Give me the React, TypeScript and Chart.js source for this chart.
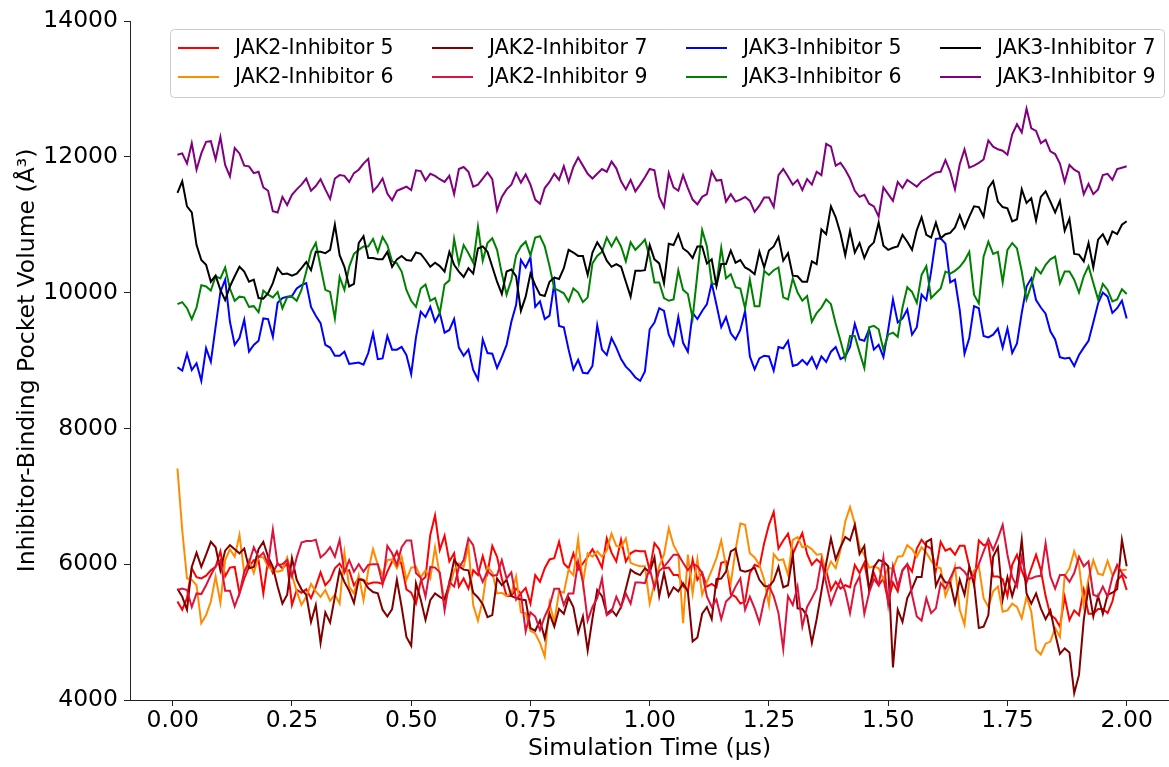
import React, { useEffect, useRef } from "react";
import { Chart, registerables } from "chart.js";

Chart.register(...registerables);

// Simulation time points (µs): 0.01 ... 2.00
const TIMES: number[] = Array.from({ length: 200 }, (_, i) => (i + 1) / 100);

const X_TICKS = [0, 0.25, 0.5, 0.75, 1.0, 1.25, 1.5, 1.75, 2.0];
const Y_TICKS = [4000, 6000, 8000, 10000, 12000, 14000];

const SERIES_NAMES = [
  "JAK2-Inhibitor 5",
  "JAK2-Inhibitor 6",
  "JAK2-Inhibitor 7",
  "JAK2-Inhibitor 9",
  "JAK3-Inhibitor 5",
  "JAK3-Inhibitor 6",
  "JAK3-Inhibitor 7",
  "JAK3-Inhibitor 9",
];
const SERIES_COLORS = ["#ff0000", "#ff8c00", "#800000", "#dc143c", "#0000ff", "#008000", "#000000", "#800080"];

const JAK2_INH5 = [
  5450, 5330, 5500, 5940, 5810, 5790, 5830, 5910, 5960, 6190,
  5820, 5950, 5960, 5570, 5790, 5960, 6060, 6060, 5570, 6060,
  5870, 6010, 5940, 6010, 5400, 5620, 5580, 5630, 5500, 5670,
  5880, 5690, 5770, 5940, 6010, 5890, 5910, 5690, 5790, 5770,
  5710, 5730, 5730, 5710, 5890, 6040, 6190, 5990, 5630, 5580,
  5420, 5750, 5810, 6430, 6720, 6210, 6420, 6040, 6160, 5670,
  5790, 5640, 5910, 5840, 6120, 5870, 6270, 6110, 5790, 5530,
  5530, 5640, 5570, 5650, 5420, 5840, 5740, 5940, 6070, 6090,
  6330, 6010, 5940, 6160, 5920, 6010, 6110, 6220, 6100, 5950,
  6380, 6170, 6040, 6360, 6040, 6160, 6200, 6190, 6190, 5910,
  6310, 6220, 5940, 5950, 5840, 5840, 5680, 5600, 6070, 5770,
  5870, 5670, 5710, 5660, 6020, 6040, 5560, 5520, 5420, 5450,
  5870, 5990, 5960, 6310, 6580, 6770, 6230, 6350, 6450, 6150,
  6310, 6460, 6150, 5990, 6070, 6010, 5910, 5620, 5740, 5640,
  5690, 5660, 5990, 5870, 6020, 5640, 5870, 5690, 5790, 5450,
  5730, 5600, 5910, 6000, 5890, 6230, 6360, 6270, 6230, 5910,
  6330, 6200, 6230, 6140, 6270, 6270, 5970, 5690, 6350, 6280,
  6300, 5820, 5820, 5780, 5530, 5990, 6140, 5910, 5730, 5940,
  6140, 5910, 5530, 5250, 5200, 5080, 5520, 5180, 5320, 5250,
  5620, 5270, 5270, 5340, 5340, 5280, 5450, 5760, 5840, 5620,
];

const JAK2_INH6 = [
  7410, 6500, 5790, 5770, 5690, 5130, 5250, 5450, 5820, 5430,
  6060, 6220, 6110, 6430, 5870, 6060, 5870, 6110, 6100, 5960,
  5910, 5890, 5910, 6100, 5840, 5600, 5400, 5520, 5710, 5600,
  5520, 5620, 5460, 5550, 5420, 6170, 5670, 5570, 5840, 5470,
  5910, 6220, 5990, 5840, 6060, 6070, 5940, 6110, 5770, 5950,
  5960, 5810, 5910, 5790, 6250, 5840, 5470, 5640, 5910, 6010,
  5960, 6270, 5400, 5170, 5470, 5960, 5880, 5570, 5580, 5530,
  5570, 5820, 5290, 5280, 5020, 4980, 4840, 4640, 5430, 5140,
  5600, 5580, 5920, 5840, 6370, 5720, 6160, 6110, 6190, 6110,
  6200, 6450, 6270, 6250, 6380, 6020, 5990, 5970, 5970, 5420,
  5720, 5970, 6140, 6530, 6280, 6150, 5130, 6140, 5570, 6070,
  5550, 5740, 5910, 6090, 6350, 5970, 5720, 6210, 6600, 6580,
  6160, 6100, 5990, 5770, 5400, 6150, 6060, 6070, 5840, 6360,
  6400, 6250, 6270, 6220, 6140, 6150, 5870, 6040, 5940, 6210,
  6630, 6840, 6600, 6250, 6140, 5950, 5970, 5940, 5780, 5950,
  5930, 6110, 6120, 6280, 6220, 6110, 6250, 6170, 6050, 5960,
  5940, 5530, 5710, 5970, 5330, 5110, 5770, 5910, 5970, 5500,
  5370, 5600, 5670, 5300, 5320, 5420, 5370, 5200, 5520, 5300,
  4740, 4670, 4830, 4860, 5060, 4930, 5830, 5940, 6190, 5990,
  5400, 5790, 6060, 5860, 5840, 6050, 5840, 5940, 5910, 5920,
];

const JAK2_INH7 = [
  5640, 5520, 5330, 5960, 6170, 5960, 6140, 6330, 6250, 5910,
  6200, 6280, 6220, 6160, 6230, 5940, 5960, 6220, 6330, 6110,
  5960, 5670, 5420, 5550, 6090, 5770, 5630, 5550, 5150, 5400,
  4840, 5290, 5140, 5520, 5910, 5740, 5610, 5430, 5780, 5760,
  5650, 5590, 5570, 5330, 5230, 5340, 5770, 5370, 4930, 4800,
  5720, 5480, 5180, 5470, 5570, 5520, 5480, 5720, 6060, 5970,
  5920, 5910, 5580, 5510, 5410, 5220, 5250, 5790, 5690, 5770,
  5530, 5500, 5480, 5470, 5060, 5020, 5170, 4910, 5270, 5080,
  5340, 5270, 5510, 5370, 4990, 5230, 4730, 5200, 5620, 5530,
  5270, 5330, 5240, 5370, 5640, 5920, 5870, 5840, 5940, 5880,
  6100, 5530, 5870, 5530, 5660, 5600, 5720, 5600, 4860, 4920,
  5270, 5370, 5190, 5780, 5790, 5890, 6190, 6230, 5910, 5890,
  5910, 5950, 5770, 5680, 5670, 5760, 5960, 5660, 5690, 6140,
  5350, 5340, 5240, 4840, 5190, 5600, 6010, 6380, 6070, 6250,
  6400, 6350, 6580, 6150, 6270, 5610, 5960, 6060, 6040, 5970,
  4480, 5330, 5150, 5500, 5640, 5810, 5810, 6330, 6370, 5680,
  5840, 5730, 5730, 5420, 5770, 5550, 5960, 5720, 5060, 5080,
  5250, 6110, 6250, 5480, 5810, 5530, 5770, 6360, 5570, 5420,
  5570, 5350, 5190, 5320, 4980, 4680, 4760, 4700, 4100, 4370,
  5180, 5660, 5230, 5530, 5270, 5550, 5580, 5630, 6360, 5970,
];

const JAK2_INH9 = [
  5620, 5640, 5620, 5370, 5570, 5560, 5690, 5840, 5970, 6060,
  5610, 5610, 5380, 5570, 5890, 6020, 6250, 6100, 6170, 6000,
  6510, 5990, 6000, 6060, 5820, 6100, 6320, 6340, 6340, 6360,
  6100, 6160, 6250, 6110, 6360, 5880, 6060, 5890, 6000, 5890,
  5990, 6000, 6000, 5710, 6270, 6160, 5990, 6250, 6350, 6350,
  5870, 5800, 5520, 5960, 5950, 5880, 5320, 5740, 5670, 5950,
  6060, 6380, 6280, 5910, 5740, 5900, 5830, 5840, 6060, 5790,
  5880, 5480, 5570, 5010, 5290, 5230, 5030, 5230, 5380, 5640,
  5640, 5400, 5570, 5570, 6040, 5740, 5170, 5370, 5500, 5790,
  5250, 5300, 5520, 5370, 5570, 5420, 5730, 5730, 5720, 5940,
  5650, 5900, 5960, 6050, 6140, 6140, 6020, 5910, 6010, 5970,
  5870, 5520, 5370, 5480, 5190, 5450, 5520, 5670, 5790, 5330,
  5520, 5350, 5140, 5470, 5680, 5530, 5280, 4750, 5530, 5400,
  5670, 5080, 5370, 5500, 5640, 6060, 5720, 5410, 5600, 5770,
  5600, 5280, 5680, 5820, 5270, 5580, 5780, 5690, 6100, 5410,
  5970, 5670, 5910, 6000, 5550, 5230, 5170, 5500, 5280, 5350,
  5720, 5640, 5790, 5940, 5950, 5890, 5780, 5840, 6000, 6190,
  6370, 6210, 6380, 6580, 6140, 5810, 5670, 6100, 5790, 5790,
  5820, 5830, 6310, 5820, 5640, 5840, 5840, 5740, 5870, 6110,
  5970, 6040, 5550, 5520, 5670, 5520, 5810, 5990, 5870, 5790,
];

const JAK3_INH5 = [
  8900, 8850, 9100, 8860, 8960, 8700, 9180, 8980, 9500, 10010,
  10190, 9570, 9230, 9330, 9600, 9130, 9230, 9290, 9620, 9610,
  9350, 9850, 9920, 9940, 9950, 10060, 10110, 10140, 9790, 9660,
  9550, 9230, 9190, 9070, 9070, 9130, 8950, 8960, 8970, 8940,
  9110, 9400, 9020, 9030, 9360, 9160, 9160, 9200, 9080, 8800,
  9340, 9720, 9640, 9790, 9570, 9700, 9410, 9450, 9610, 9190,
  9070, 9160, 8860, 8720, 9310, 9110, 9100, 8890, 9050, 9230,
  9570, 9820, 10480, 10370, 10520, 9790, 9870, 9610, 9660, 10140,
  9510, 9490, 9160, 8870, 9010, 8820, 8810, 8920, 9520, 9160,
  9080, 9330, 9190, 9020, 8910, 8840, 8750, 8700, 8840, 9460,
  9560, 9770, 9730, 9380, 9230, 9640, 9260, 9130, 9700, 9610,
  9730, 9830, 10140, 9820, 9490, 9640, 9400, 9310, 9450, 9730,
  9060, 8870, 9030, 9070, 9060, 8850, 9200, 9180, 9290, 8920,
  8940, 9010, 8940, 9050, 8890, 9060, 8980, 9130, 9200, 9020,
  9060, 9200, 9540, 9310, 9290, 9460, 9160, 9230, 9050, 9450,
  9900, 9560, 9620, 9750, 9380, 9490, 9970, 9890, 10310, 10790,
  10800, 10720, 10150, 10190, 9740, 9100, 9330, 9800, 9770, 9360,
  9340, 9380, 9470, 9190, 9470, 9110, 9250, 9700, 10090, 10210,
  9890, 9780, 9690, 9430, 9310, 9050, 9030, 9040, 8920, 9080,
  9190, 9290, 9560, 9840, 10000, 9940, 9700, 9770, 9880, 9620,
];

const JAK3_INH6 = [
  9830, 9860, 9770, 9610, 9780, 10110, 10090, 10030, 10240, 10210,
  10370, 10060, 9880, 9940, 9930, 9790, 9800, 9710, 10030, 9970,
  9930, 10010, 9770, 9930, 9940, 9880, 10040, 10310, 10600, 10730,
  10380, 10040, 10010, 9620, 10230, 10040, 10380, 10570, 10630, 10680,
  10680, 10790, 10600, 10820, 10700, 10460, 10430, 10310, 10040, 9880,
  9790, 10060, 10120, 9880, 9920, 9700, 10120, 10180, 10790, 10420,
  10700, 10580, 10440, 10970, 10470, 10730, 10800, 10630, 10280, 9970,
  10190, 10550, 10680, 10750, 10550, 10810, 10830, 10680, 10390, 10060,
  10030, 9990, 9870, 10060, 10000, 9860, 9930, 10430, 10540, 10600,
  10810, 10680, 10810, 10680, 10460, 10740, 10630, 10700, 10780, 10520,
  10150, 10150, 9920, 9880, 9900, 10330, 10040, 9980, 9620, 10280,
  10920, 10680, 10140, 10120, 10660, 10210, 10270, 10080, 10060, 9770,
  10190, 9800, 9800, 10320, 10260, 10330, 10370, 9930, 9900, 10210,
  10000, 9880, 9950, 9570, 9700, 9780, 9900, 9830, 9540, 9290,
  9030, 9360, 9360, 9120, 8890, 9490, 9510, 9460, 9160, 9380,
  9410, 9350, 9780, 10080, 10010, 9850, 10260, 10390, 9920, 9990,
  10060, 10310, 10280, 10320, 10380, 10470, 10600, 9970, 9840, 10530,
  10750, 10570, 10600, 10150, 10630, 10730, 10650, 10310, 9900, 10110,
  10360, 10280, 10410, 10490, 10530, 10140, 10310, 10310, 10190, 10000,
  10240, 10390, 10140, 9900, 10130, 10040, 9870, 9900, 10050, 9980,
];

const JAK3_INH7 = [
  11470, 11640, 11270, 11180, 10700, 10480, 10410, 10160, 10250, 10040,
  9890, 10090, 10240, 10380, 10310, 10160, 10190, 9920, 9910, 9990,
  10140, 10360, 10270, 10280, 10250, 10280, 10360, 10450, 10330, 10600,
  10600, 10580, 10630, 11000, 10550, 10380, 10090, 10130, 10730, 10830,
  10510, 10510, 10490, 10490, 10600, 10380, 10490, 10540, 10480, 10470,
  10590, 10570, 10480, 10380, 10440, 10390, 10310, 10600, 10410, 10310,
  10230, 10360, 10280, 10650, 10680, 10600, 10380, 10160, 9980, 10310,
  10340, 10240, 9730, 9940, 10280, 10110, 9970, 9950, 10160, 10220,
  10200, 10360, 10630, 10590, 10540, 10540, 10260, 10590, 10740, 10630,
  10470, 10380, 10420, 10380, 10160, 9940, 10320, 10320, 10330, 10700,
  10490, 10430, 10140, 10720, 10700, 10860, 10650, 10600, 10510, 10680,
  10680, 10430, 10490, 10100, 10420, 10420, 10620, 10440, 10480, 10370,
  10330, 10270, 10600, 10370, 10620, 10680, 10820, 10470, 10580, 10250,
  10240, 10160, 10160, 10460, 10420, 10930, 10860, 11270, 11110, 10870,
  10550, 10910, 10590, 10730, 10510, 10670, 10740, 11030, 10690, 10630,
  10660, 10680, 10850, 10750, 10630, 10920, 11110, 10850, 10810, 11030,
  10800, 10860, 10880, 10960, 11140, 10950, 11120, 11270, 11260, 11120,
  11540, 11640, 11340, 11260, 11240, 11050, 11080, 11520, 11320, 11390,
  11060, 11410, 11490, 11340, 11180, 11350, 10910, 11090, 10570, 10560,
  10460, 10730, 10370, 10780, 10860, 10720, 10900, 10860, 11000, 11050,
];

const JAK3_INH9 = [
  12030, 12050, 11900, 12200, 11810, 12050, 12220, 12230, 11960, 12290,
  11880, 11710, 12130, 12050, 11870, 11860, 11760, 11780, 11550, 11500,
  11200, 11180, 11410, 11290, 11440, 11520, 11590, 11680, 11500, 11570,
  11670, 11520, 11380, 11680, 11730, 11720, 11630, 11760, 11810, 11900,
  11970, 11490, 11570, 11680, 11460, 11360, 11500, 11530, 11560, 11510,
  11800, 11790, 11650, 11750, 11720, 11670, 11630, 11720, 11450, 11820,
  11850, 11780, 11560, 11590, 11680, 11770, 11670, 11210, 11410, 11520,
  11590, 11760, 11620, 11740, 11590, 11370, 11310, 11540, 11630, 11750,
  11660, 11860, 11630, 11850, 11990, 11870, 11750, 11680, 11750, 11820,
  11780, 11930, 11830, 11640, 11520, 11660, 11490, 11590, 11700, 11820,
  11800, 11410, 11260, 11760, 11550, 11500, 11730, 11540, 11370, 11300,
  11410, 11450, 11780, 11650, 11660, 11340, 11450, 11340, 11370, 11410,
  11350, 11190, 11280, 11400, 11400, 11260, 11730, 11820, 11710, 11590,
  11660, 11510, 11670, 11590, 11780, 11730, 12190, 12150, 11870, 11910,
  11810, 11680, 11500, 11410, 11440, 11310, 11270, 11120, 11550, 11450,
  11350, 11630, 11540, 11660, 11610, 11560, 11640, 11680, 11730, 11770,
  11780, 11950, 11780, 11520, 11890, 12110, 11840, 11870, 11910, 11960,
  12240, 12150, 12110, 12090, 12030, 12330, 12480, 12360, 12710, 12420,
  12380, 12200, 12250, 12080, 12040, 11900, 11630, 11880, 11810, 11770,
  11450, 11600, 11450, 11520, 11730, 11750, 11660, 11820, 11840, 11860,
];

const SERIES_VALUES = [JAK2_INH5, JAK2_INH6, JAK2_INH7, JAK2_INH9, JAK3_INH5, JAK3_INH6, JAK3_INH7, JAK3_INH9];

const FONT = '"DejaVu Sans", "Liberation Sans", sans-serif';

const legendPlugin = {
  id: "mplLegend",
  afterDraw(chart: any) {
    const ctx = chart.ctx as CanvasRenderingContext2D;
    ctx.save();
    const fx = 170.5, fy = 29.5, fw = 994, fh = 68;
    ctx.beginPath();
    (ctx as any).roundRect(fx, fy, fw, fh, 4);
    ctx.fillStyle = "rgba(255,255,255,0.8)";
    ctx.fill();
    ctx.strokeStyle = "#cccccc";
    ctx.lineWidth = 1;
    ctx.stroke();
    ctx.font = `20.5px ${FONT}`;
    ctx.textBaseline = "middle";
    ctx.textAlign = "left";
    chart.data.datasets.forEach((ds: any, i: number) => {
      const col = Math.floor(i / 2);
      const row = i % 2;
      const x = 178 + col * 254;
      const y = 48 + row * 29;
      ctx.beginPath();
      ctx.moveTo(x, y);
      ctx.lineTo(x + 41, y);
      ctx.strokeStyle = ds.borderColor;
      ctx.lineWidth = 2;
      ctx.stroke();
      ctx.fillStyle = "#000";
      ctx.fillText(ds.label, x + 57, y + 1);
    });
    ctx.restore();
  },
};

export default function App() {
  const canvasRef = useRef<HTMLCanvasElement | null>(null);

  useEffect(() => {
    if (!canvasRef.current) return;
    const datasets = SERIES_NAMES.map((name, si) => ({
      label: name,
      data: TIMES.map((t, i) => ({ x: t, y: SERIES_VALUES[si][i] })),
      borderColor: SERIES_COLORS[si],
      backgroundColor: SERIES_COLORS[si],
      borderWidth: 2,
      pointRadius: 0,
      tension: 0,
      fill: false,
      order: SERIES_NAMES.length - si,
    }));

    const tickFont = { family: FONT, size: 23.5 };
    const titleFont = { family: FONT, size: 23.5 };

    const chart = new Chart(canvasRef.current, {
      type: "line",
      data: { datasets },
      plugins: [legendPlugin],
      options: {
        responsive: false,
        animation: false,
        devicePixelRatio: 1,
        layout: { padding: { left: 10, right: 0, top: 21, bottom: 0 } },
        plugins: { legend: { display: false }, tooltip: { enabled: false } },
        scales: {
          x: {
            type: "linear",
            min: -0.0895,
            max: 2.0887,
            afterBuildTicks: (axis: any) => {
              axis.ticks = X_TICKS.map((v) => ({ value: v }));
            },
            afterFit: (scale: any) => {
              scale.height = 67;
            },
            ticks: {
              callback: (v: any) => Number(v).toFixed(2),
              font: tickFont,
              color: "#000",
              padding: 1,
              maxRotation: 0,
              autoSkip: false,
            },
            grid: { display: true, drawOnChartArea: false, drawTicks: true, tickLength: 6, color: "#222", lineWidth: 1 },
            border: { display: true, color: "#222", width: 1 },
            title: { display: true, text: "Simulation Time (μs)", font: titleFont, color: "#000", padding: { top: 4, bottom: 4 } },
          },
          y: {
            type: "linear",
            min: 4000,
            max: 14000,
            afterBuildTicks: (axis: any) => {
              axis.ticks = Y_TICKS.map((v) => ({ value: v }));
            },
            afterFit: (scale: any) => {
              scale.width = 120;
            },
            ticks: {
              callback: (v: any) => String(v),
              font: tickFont,
              color: "#000",
              padding: 6,
              autoSkip: false,
            },
            grid: { display: true, drawOnChartArea: false, drawTicks: true, tickLength: 6, color: "#222", lineWidth: 1 },
            border: { display: true, color: "#222", width: 1 },
            title: { display: true, text: "Inhibitor-Binding Pocket Volume (Å³)", font: titleFont, color: "#000", padding: { top: 4, bottom: 4 } },
          },
        },
      } as any,
    });
    return () => chart.destroy();
  }, []);

  return (
    <div style={{ position: "fixed", left: 0, top: 0, width: 1169, height: 767, background: "#fff" }}>
      <canvas ref={canvasRef} width={1169} height={767} style={{ display: "block", width: 1169, height: 767 }} />
    </div>
  );
}
